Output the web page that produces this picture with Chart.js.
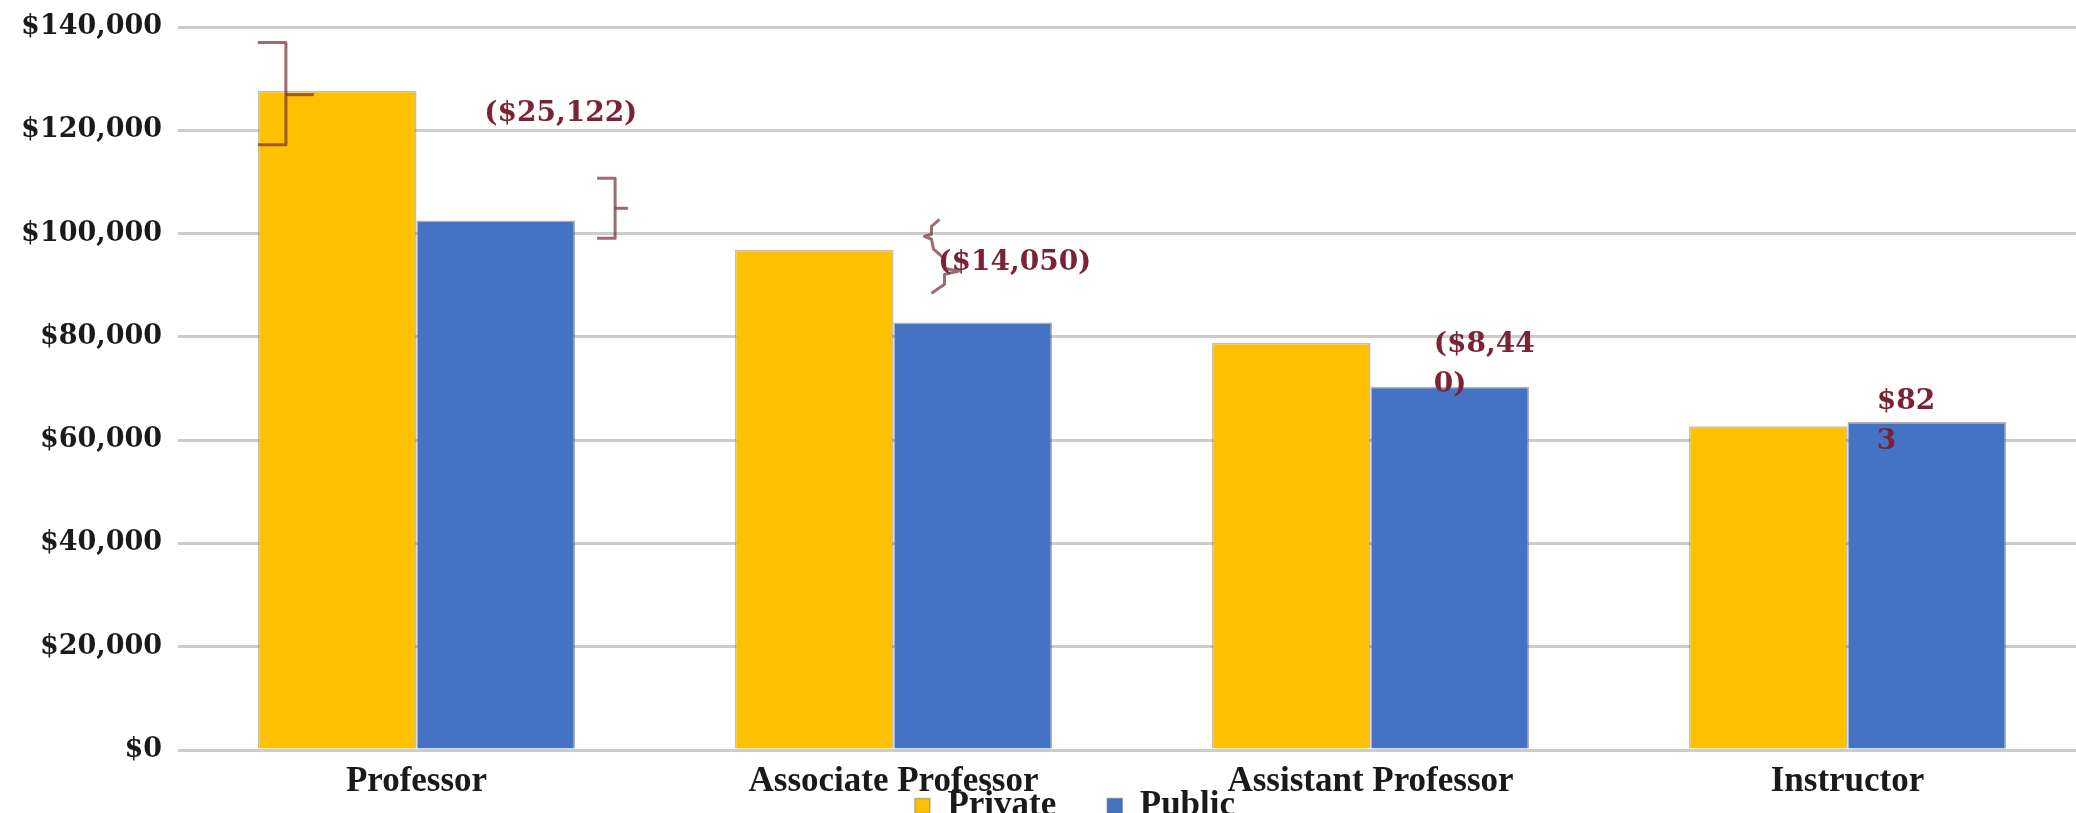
<!DOCTYPE html>
<html>
<head>
<meta charset="utf-8">
<script src="https://cdn.jsdelivr.net/npm/chart.js@4.4.1/dist/chart.umd.min.js"></script>
<style>
  html, body { margin: 0; padding: 0; background: #fff; overflow: hidden; }
  #wrap { position: relative; width: 2100px; height: 910px; }
</style>
</head>
<body>
<div id="wrap"><canvas id="salaryChart"></canvas></div>
<script>
// data
const categories = ['Professor', 'Associate Professor', 'Assistant Professor', 'Instructor'];
const privateSalary = [127650, 96850, 78800, 62700];
const publicSalary = [102528, 82800, 70360, 63523];
const gapLabels = [['($25,122)'], ['($14,050)'], ['($8,44', '0)'], ['$82', '3']];
const yTickValues = [0, 20000, 40000, 60000, 80000, 100000, 120000, 140000];

const ink = '#1a1a1a';
const maroon = '#7b2334';

// brace marks next to the bars (hand-drawn in the original)
const bracePlugin = {
  id: 'braces',
  afterDatasetsDraw(chart) {
    const ctx = chart.ctx;
    const y = chart.scales.y;
    const priv = chart.getDatasetMeta(0).data;
    const pub = chart.getDatasetMeta(1).data;
    const pl = priv[0].x - priv[0].width / 2;   // professor private, left edge
    const pr = pub[0].x + pub[0].width / 2;     // professor public, right edge
    const ar = priv[1].x + priv[1].width / 2;   // associate private, right edge
    const shapes = [
      [[pl, 137000], [pl + 28, 137000], [pl + 28, 117200], [pl, 117200]],
      [[pl + 28, 126900], [pl + 56, 126900]],
      [[pr + 22, 110700], [pr + 40, 110700], [pr + 40, 99100], [pr + 22, 99100]],
      [[pr + 40, 104900], [pr + 53, 104900]],
      [[ar + 46, 102760], [ar + 38, 101400], [ar + 38, 99870], [ar + 31, 99480], [ar + 38, 98900],
       [ar + 40, 96970], [ar + 46, 96000], [ar + 51, 95030], [ar + 51, 93300], [ar + 65, 92700],
       [ar + 51, 92100], [ar + 51, 90200], [ar + 38, 88460]]
    ];
    ctx.save();
    ctx.strokeStyle = 'rgba(115, 45, 55, 0.7)';
    ctx.lineWidth = 3;
    ctx.lineJoin = 'round';
    shapes.forEach(s => {
      ctx.beginPath();
      s.forEach(([px, v], k) => {
        const py = y.getPixelForValue(v);
        if (k) ctx.lineTo(px, py); else ctx.moveTo(px, py);
      });
      ctx.stroke();
    });
    ctx.restore();
  }
};

// gap labels, placed relative to the public bar of each group
const gapLabelPlugin = {
  id: 'gapLabels',
  afterDatasetsDraw(chart) {
    const ctx = chart.ctx;
    const pub = chart.getDatasetMeta(1).data;
    const place = [
      { dx: 65, dy: -107, align: 'center' },
      { dx: 42, dy: -60, align: 'center' },
      { dx: -16, dy: -42, align: 'left' },
      { dx: -50, dy: -20, align: 'left' }
    ];
    ctx.save();
    ctx.font = 'bold 28px "DejaVu Serif"';
    ctx.fillStyle = maroon;
    ctx.textBaseline = 'middle';
    gapLabels.forEach((lines, i) => {
      const bar = pub[i];
      const p = place[i];
      ctx.textAlign = p.align;
      lines.forEach((t, k) => ctx.fillText(t, bar.x + p.dx, bar.y + p.dy + k * 40));
    });
    ctx.restore();
  }
};

// legend sits tight under the axis labels, slightly right of centre
const legendShift = {
  id: 'legendShift',
  afterLayout(chart) {
    const l = chart.legend;
    const top = chart.chartArea.bottom - 12.5;
    l.bottom = top + l.height;
    l.top = top;
    l.left += 32; l.right += 32;
  }
};

Chart.defaults.font.family = '"Liberation Serif", serif';
Chart.defaults.color = ink;

const ctx = document.getElementById('salaryChart').getContext('2d');
new Chart(ctx, {
  type: 'bar',
  data: {
    labels: categories,
    datasets: [
      {
        label: 'Private',
        data: privateSalary,
        backgroundColor: '#FFC000',
        borderColor: 'rgba(110, 110, 110, 0.45)',
        borderWidth: 1.5,
        categoryPercentage: 0.665,
        barPercentage: 1.0
      },
      {
        label: 'Public',
        data: publicSalary,
        backgroundColor: '#4472C4',
        borderColor: 'rgba(80, 80, 100, 0.45)',
        borderWidth: 1.5,
        categoryPercentage: 0.665,
        barPercentage: 1.0
      }
    ]
  },
  options: {
    responsive: true,
    maintainAspectRatio: false,
    animation: false,
    layout: { padding: { top: 27, right: 14, left: 0, bottom: 0 } },
    plugins: {
      legend: {
        position: 'bottom',
        labels: {
          boxWidth: 15,
          boxHeight: 15,
          padding: 51,
          color: ink,
          font: { size: 35, weight: 'bold' }
        }
      },
      tooltip: { enabled: false }
    },
    scales: {
      x: {
        grid: { display: false, drawTicks: false },
        border: { display: false },
        ticks: {
          padding: 11,
          maxRotation: 0,
          autoSkip: false,
          color: ink,
          font: { size: 35, weight: 'bold' }
        }
      },
      y: {
        min: 0,
        max: 140000,
        border: { display: false },
        grid: { color: '#cccccc', lineWidth: 3, drawTicks: false },
        ticks: {
          padding: 16,
          color: ink,
          font: { family: '"DejaVu Serif", serif', size: 27, weight: 'bold' },
          callback: v => '$' + v.toLocaleString('en-US')
        },
        afterBuildTicks: s => { s.ticks = yTickValues.map(v => ({ value: v })); },
        afterFit: s => { s.width = 178; s.paddingTop = 0; s.paddingBottom = 0; }
      }
    }
  },
  plugins: [bracePlugin, gapLabelPlugin, legendShift]
});
</script>
</body>
</html>
